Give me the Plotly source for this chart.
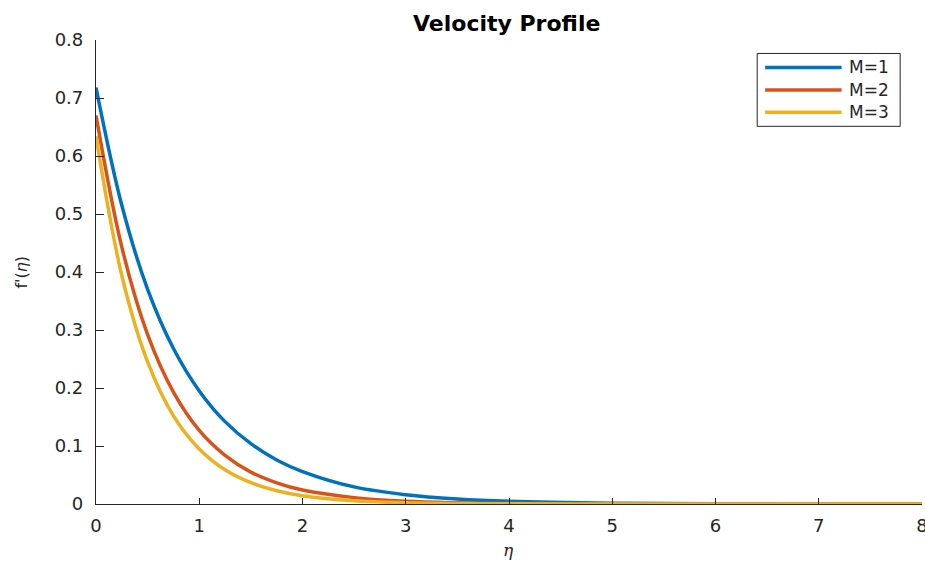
import plotly.graph_objects as go

# data
eta = [0, 0.25, 0.5, 0.75, 1, 1.25, 1.5, 1.75, 2, 2.5, 3, 3.5, 4, 5, 6, 7, 8]
f_m1 = [0.718, 0.515, 0.370, 0.268, 0.195, 0.142, 0.104, 0.076, 0.056, 0.0295, 0.016, 0.0087, 0.0048, 0.0015, 0.0005, 0.00015, 0.00005]
f_m2 = [0.670, 0.443, 0.292, 0.193, 0.127, 0.084, 0.055, 0.0365, 0.024, 0.011, 0.0046, 0.002, 0.0009, 0.0002, 0.0001, 0.0, 0.0]
f_m3 = [0.634, 0.394, 0.245, 0.152, 0.095, 0.059, 0.0367, 0.0228, 0.0142, 0.0055, 0.0021, 0.0008, 0.0003, 0.0001, 0.0, 0.0, 0.0]
names = ["M=1", "M=2", "M=3"]
colors = ["#0072BD", "#D95319", "#EDB120"]
series = [f_m1, f_m2, f_m3]

x_ticks = [0, 1, 2, 3, 4, 5, 6, 7, 8]
y_ticks = [0, 0.1, 0.2, 0.3, 0.4, 0.5, 0.6, 0.7, 0.8]
y_tick_text = ["0", "0.1", "0.2", "0.3", "0.4", "0.5", "0.6", "0.7", "0.8"]

FONT = "DejaVu Sans, Verdana, sans-serif"
TXT = "#262626"

fig = go.Figure()
for name, c, y in zip(names, colors, series):
    fig.add_trace(go.Scatter(x=eta, y=y, mode="lines", name=name,
                             line=dict(color=c, width=3.5, shape="spline", smoothing=1.0),
                             showlegend=False, cliponaxis=True))

W, H = 929, 561
L, R, T, B = 96, 1, 39.5, 56.5
pw = W - L - R
ph = H - T - B

def px_to_paper_x(px):
    return (px - L) / pw

def px_to_paper_y(py):
    return (H - B - py) / ph

# custom legend (MATLAB style)
lx0, lx1 = px_to_paper_x(762), px_to_paper_x(906)
ly0, ly1 = px_to_paper_y(126), px_to_paper_y(53)
shapes = [dict(type="rect", xref="paper", yref="paper", x0=lx0, x1=lx1, y0=ly0, y1=ly1,
               line=dict(color=TXT, width=1), fillcolor="white", layer="above")]
annotations = []
rows = [67, 89.5, 112]
for name, c, ry in zip(names, colors, rows):
    yy = px_to_paper_y(ry)
    shapes.append(dict(type="line", xref="paper", yref="paper",
                       x0=px_to_paper_x(770), x1=px_to_paper_x(847), y0=yy, y1=yy,
                       line=dict(color=c, width=3.5), layer="above"))
    annotations.append(dict(xref="paper", yref="paper", x=px_to_paper_x(852), y=yy,
                            text=name, showarrow=False, xanchor="left", yanchor="middle",
                            font=dict(family=FONT, size=17, color=TXT)))

annotations.append(dict(xref="paper", yref="paper", x=px_to_paper_x(509), y=px_to_paper_y(23),
                        text="<b>Velocity Profile</b>", showarrow=False,
                        xanchor="center", yanchor="middle",
                        font=dict(family=FONT, size=22, color="#000000")))
annotations.append(dict(xref="paper", yref="paper", x=px_to_paper_x(511), y=px_to_paper_y(551),
                        text="<i>η</i>", showarrow=False, xanchor="center", yanchor="middle",
                        font=dict(family="DejaVu Serif, serif", size=17, color=TXT)))
annotations.append(dict(xref="paper", yref="paper", x=px_to_paper_x(20), y=px_to_paper_y(272),
                        text="f'(<i>η</i>)", showarrow=False, xanchor="center", yanchor="middle",
                        textangle=-90,
                        font=dict(family=FONT, size=16, color=TXT)))

fig.update_layout(
    width=W, height=H,
    margin=dict(l=L, r=R, t=T, b=B, pad=0),
    paper_bgcolor="white", plot_bgcolor="white",
    shapes=shapes, annotations=annotations,
    xaxis=dict(range=[0, 8], tickvals=x_ticks, ticktext=[str(v) for v in x_ticks],
               showgrid=False, zeroline=False, showline=True, linecolor=TXT, linewidth=1.2,
               ticks="inside", ticklen=6, tickcolor=TXT, tickwidth=1.2,
               tickfont=dict(family=FONT, size=18, color=TXT), ticklabelstandoff=5,
               ticklabeloverflow="allow"),
    yaxis=dict(range=[0, 0.8], tickvals=y_ticks, ticktext=y_tick_text,
               showgrid=False, zeroline=False, showline=True, linecolor=TXT, linewidth=1.2,
               ticks="inside", ticklen=8, tickcolor=TXT, tickwidth=1.2,
               tickfont=dict(family=FONT, size=18, color=TXT), ticklabelstandoff=8),
)

fig.write_html("out.html")
